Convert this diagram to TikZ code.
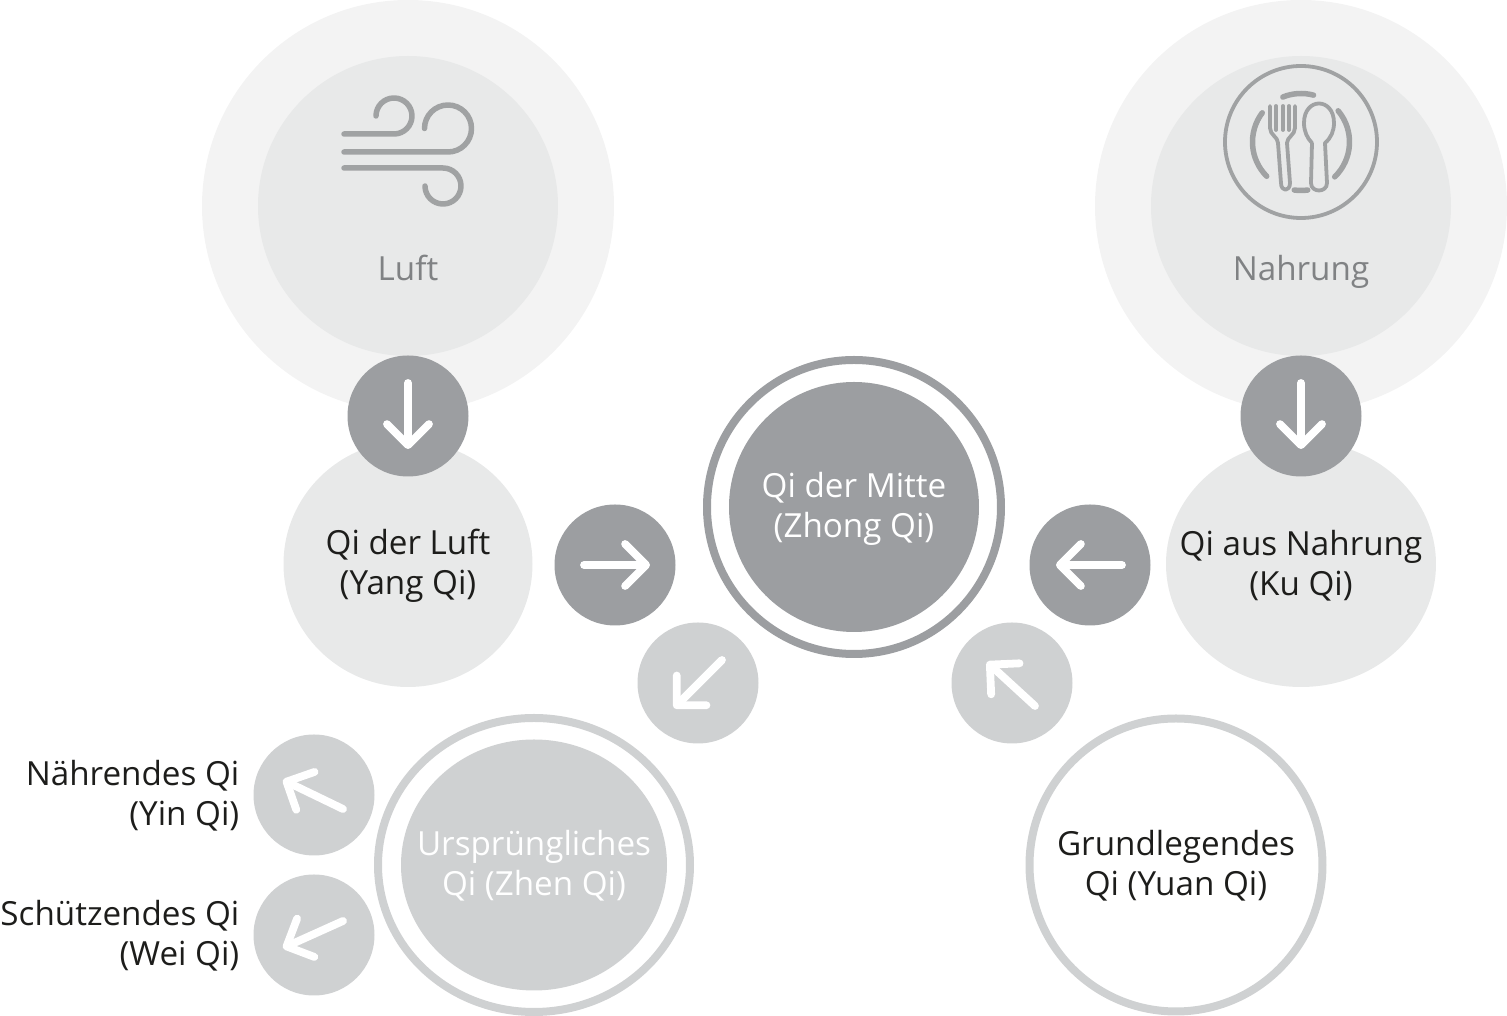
\documentclass[tikz,border=0pt]{standalone}
\usepackage{fontspec}
\setmainfont{Open Sans}
\usetikzlibrary{shapes.geometric,arrows.meta}
\definecolor{halo}{HTML}{F3F3F3}
\definecolor{pale}{HTML}{E8E9E9}
\definecolor{dark}{HTML}{9C9EA1}
\definecolor{mid}{HTML}{CFD1D2}
\definecolor{icon}{HTML}{A0A2A3}
\definecolor{greytext}{HTML}{808284}
\definecolor{ink}{HTML}{1D1D1B}

\begin{document}
\begin{tikzpicture}[x=0.1mm,y=-0.1mm,
blob/.style = {ellipse, inner sep = 0pt, outer sep = 0pt},
halocirc/.style = {blob, fill = halo, minimum width = 41.2mm, minimum height = 41.2mm},
palecirc/.style = {blob, fill = pale, minimum width = 30mm, minimum height = 30mm},
qicirc/.style = {blob, fill = pale, minimum height = 24.6mm},
darkcirc/.style = {blob, fill = dark, minimum width = 12.1mm, minimum height = 12.1mm},
midcirc/.style = {blob, fill = mid, minimum width = 12.1mm, minimum height = 12.1mm},
txt/.style = {inner sep = 0pt, align = center, text = ink, font = \fontsize{9.45}{11.38}\selectfont},
arrowline/.style = {draw = white, line width = 0.78mm, line cap = round, line join = round,
  -{Straight Barb[length = 2.1mm, width = 4.2mm, round]}},
iconline/.style = {draw = icon, line width = 0.55mm, line cap = round, line join = round},
iconthin/.style = {draw = icon, line width = 0.38mm, line cap = round, line join = round},
]
\useasboundingbox (0,0) rectangle (1507,1016);

% top circles
\node (airhalo) at (408,206)[halocirc] {};
\node (airpale) at (408,206)[palecirc] {};
\node (foodhalo) at (1301,206)[halocirc] {};
\node (foodpale) at (1301,206)[palecirc] {};
\node (airtxt) at (408,281)[txt,anchor=base,text=greytext] {Luft};
\node (foodtxt) at (1301,281)[txt,anchor=base,text=greytext] {Nahrung};

% wind
\draw[iconline] (344,134)--(394,134) arc[start angle=-90,end angle=180,radius=1.8mm];
\draw[iconline] (344,152)--(448,152) arc[start angle=-90,end angle=180,radius=2.35mm];
\draw[iconline] (344,168)--(443,168) arc[start angle=90,end angle=-180,radius=1.8mm];

% plate
\draw[iconthin] (1301,142) circle (7.6mm);
\draw[iconline] (1301,142)++(112:4.85mm) arc[start angle=112,end angle=75,radius=4.85mm];
\draw[iconline] (1301,142)++(143:4.85mm) arc[start angle=143,end angle=225,radius=4.85mm];
\draw[iconline] (1301,142)++(40:4.85mm) arc[start angle=40,end angle=-46,radius=4.85mm];
\draw[iconline] (1301,142)++(-98:4.85mm) arc[start angle=-98,end angle=-82,radius=4.85mm];
% fork
\draw[iconthin] (1270,106)--(1270,128) .. controls (1270,135) and (1278,137) .. (1278,143)
  --(1281,183) .. controls (1281,192) and (1290,192) .. (1290,183)
  --(1287,143) .. controls (1287,137) and (1295,135) .. (1295,128)--(1295,106);
\draw[iconthin] (1276,106)--(1276,130);
\draw[iconthin] (1283,106)--(1283,130);
\draw[iconthin] (1289,106)--(1289,130);
% spoon
\draw[iconthin] (1312,143)--(1311,183) .. controls (1311,193) and (1327,193) .. (1327,183)
  --(1325,143) .. controls (1331,138) and (1334,131) .. (1334,123)
  .. controls (1334,97) and (1304,97) .. (1304,123)
  .. controls (1304,131) and (1307,138) .. (1312,143);

% Qi from air and food
\node (yang) at (408,564)[qicirc,minimum width=24.9mm] {};
\node (ku) at (1301,564)[qicirc,minimum width=27mm] {};
\node (yangtxt) at (408,566)[txt] {Qi der Luft\\(Yang Qi)};
\node (kutxt) at (1301,566)[txt] {Qi aus Nahrung\\(Ku Qi)};

% centre
\node (zhongring) at (854,507)[blob,draw=dark,line width=0.8mm,minimum width=29.4mm,minimum height=29.4mm] {};
\node (zhong) at (854,507)[blob,fill=dark,minimum width=25mm,minimum height=25mm] {};
\node (zhongtxt) at (854,509)[txt,text=white] {Qi der Mitte\\(Zhong Qi)};

% lower circles
\node (zhenring) at (534,865)[blob,draw=mid,line width=0.8mm,minimum width=31.2mm,minimum height=29.4mm] {};
\node (zhen) at (534,865)[blob,fill=mid,minimum width=26.6mm,minimum height=25.1mm] {};
\node (zhentxt) at (534,866)[txt,text=white] {Ursprüngliches\\Qi (Zhen Qi)};
\node (yuan) at (1176,865)[blob,draw=mid,line width=0.8mm,fill=white,minimum width=29.3mm,minimum height=29.3mm] {};
\node (yuantxt) at (1176,866)[txt] {Grundlegendes\\Qi (Yuan Qi)};

% labels on the left
\node (yintxt) at (240,796)[txt,anchor=east,align=right] {Nährendes Qi\\(Yin Qi)};
\node (weitxt) at (240,936)[txt,anchor=east,align=right] {Schützendes Qi\\(Wei Qi)};

% arrow circles
\node (aird) at (408,416)[darkcirc] {};
\node (foodd) at (1301,416)[darkcirc] {};
\node (yangd) at (615,565)[darkcirc] {};
\node (kud) at (1090,565)[darkcirc] {};
\node (zhenm) at (698,683)[midcirc] {};
\node (yuanm) at (1012,683)[midcirc] {};
\node (yinm) at (314,795)[midcirc] {};
\node (weim) at (314,935)[midcirc] {};

\coordinate (a1) at (408,383);
\coordinate (a2) at (408,449);
\coordinate (b1) at (1301,383);
\coordinate (b2) at (1301,449);
\coordinate (c1) at (584,565);
\coordinate (c2) at (650,565);
\coordinate (d1) at (1122,565);
\coordinate (d2) at (1056,565);
\coordinate (e1) at (722,660);
\coordinate (e2) at (674,708);
\coordinate (f1) at (1035,706);
\coordinate (f2) at (987,662);
\coordinate (g1) at (343,809);
\coordinate (g2) at (283,780);
\coordinate (h1) at (343,921);
\coordinate (h2) at (283,948);
\draw[arrowline] (a1)--(a2);
\draw[arrowline] (b1)--(b2);
\draw[arrowline] (c1)--(c2);
\draw[arrowline] (d1)--(d2);
\draw[arrowline] (e1)--(e2);
\draw[arrowline] (f1)--(f2);
\draw[arrowline] (g1)--(g2);
\draw[arrowline] (h1)--(h2);
\end{tikzpicture}
\end{document}
